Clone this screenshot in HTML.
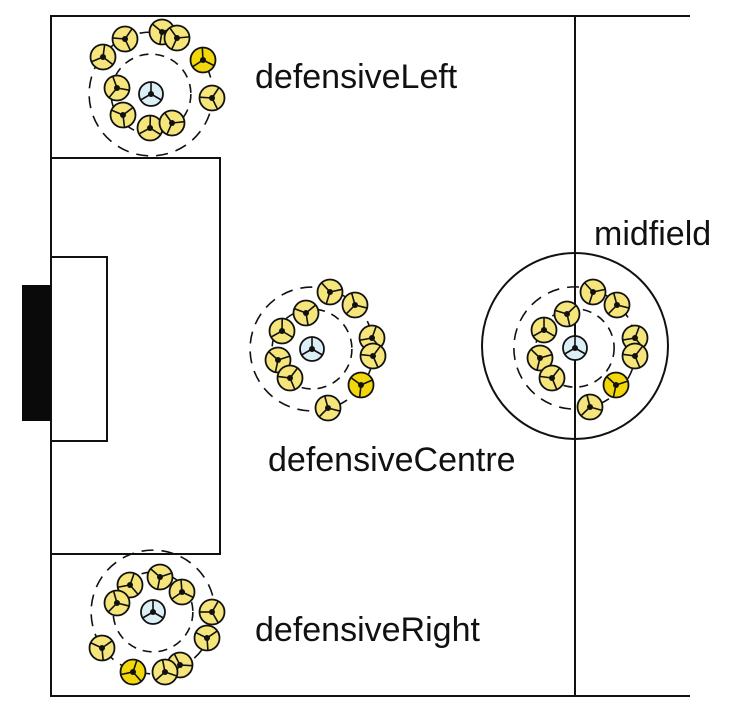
<!DOCTYPE html>
<html><head><meta charset="utf-8"><style>
html,body{margin:0;padding:0;background:#fff;}
svg{display:block;}
text{font-family:"Liberation Sans",sans-serif;font-size:34px;fill:#111;}
</style></head><body>
<svg id="pitch" width="732" height="717" viewBox="0 0 732 717" xmlns="http://www.w3.org/2000/svg">
<g fill="none" stroke="#111" stroke-width="2">
<line x1="50" y1="16" x2="690" y2="16"/>
<line x1="50" y1="696" x2="690" y2="696"/>
<line x1="51" y1="16" x2="51" y2="696"/>
<line x1="575" y1="16" x2="575" y2="696"/>
<rect x="51" y="158" width="169" height="396"/>
<rect x="51" y="257" width="56" height="184"/>
<circle cx="575" cy="346" r="93"/>
</g>
<rect x="22" y="285" width="29" height="136" fill="#0a0a0a"/>
<g id="clusters"></g>
</svg>
<script>
const groupNames = ["defensiveLeft","defensiveCentre","midfield","defensiveRight"];
const centreX = [151, 312, 575, 153];
const centreY = [94, 349, 348, 612];
const labelX = [255, 268, 594, 255];
const labelY = [88, 471, 245, 641];
const playersX = [
 [103,125,162,177,203,212,150,172,117,123],
 [330,355,372,373,361,328,306,282,278,290],
 [593,617,635,635,616,590,567,544,540,552],
 [130,160,182,117,212,207,180,165,133,102]
];
const playersY = [
 [57,39,32,38,60,98,128,123,88,115],
 [292,305,338,356,385,408,313,331,360,378],
 [292,305,338,356,385,407,314,330,358,378],
 [585,577,592,603,612,638,665,672,672,648]
];
const bright = [[4],[4],[4],[8]];
const NS="http://www.w3.org/2000/svg";
const root=document.getElementById('clusters');
function mk(t,a,p){const e=document.createElementNS(NS,t);for(const k in a)e.setAttribute(k,a[k]);(p||root).appendChild(e);return e;}
function glyph(g,x,y,r,fill,rot){
  mk('circle',{cx:x,cy:y,r:r,fill:fill,stroke:'#111','stroke-width':1.8},g);
  for(let i=0;i<3;i++){const a=rot+i*2.094;
    mk('line',{x1:x,y1:y,x2:x+r*Math.cos(a),y2:y+r*Math.sin(a),stroke:'#111','stroke-width':1.6},g);}
  mk('circle',{cx:x,cy:y,r:3,fill:'#111'},g);
}
groupNames.forEach((n,gi)=>{
  const g=mk('g',{});
  
  
  const cx=centreX[gi], cy=centreY[gi];
  let rs=0;playersX[gi].forEach((x,i)=>{rs+=Math.hypot(x-cx,playersY[gi][i]-cy);});rs/=playersX[gi].length;
  const d1=mk('circle',{cx:cx,cy:cy,r:rs-11,fill:'none',stroke:'#111','stroke-width':1.6,'stroke-dasharray':'9 7'},g);
  
  
  const d2=mk('circle',{cx:cx,cy:cy,r:rs+11,fill:'none',stroke:'#111','stroke-width':1.6,'stroke-dasharray':'12 8'},g);
  
  
  playersX[gi].forEach((x,i)=>{
    const p=mk('g',{},g);
    
    
    const y=playersY[gi][i];
    const fill=bright[gi].includes(i)?'#f2d80a':'#f6e57a';
    glyph(p,x,y,12.5,fill,Math.atan2(cy-y,cx-x));
  });
  const c=mk('g',{},g);
  
  
  glyph(c,cx,cy,12,'#dceef6',-1.57);
  const t=mk('text',{x:labelX[gi],y:labelY[gi]});
  
  
  t.textContent=n;
});
</script>
</body></html>
